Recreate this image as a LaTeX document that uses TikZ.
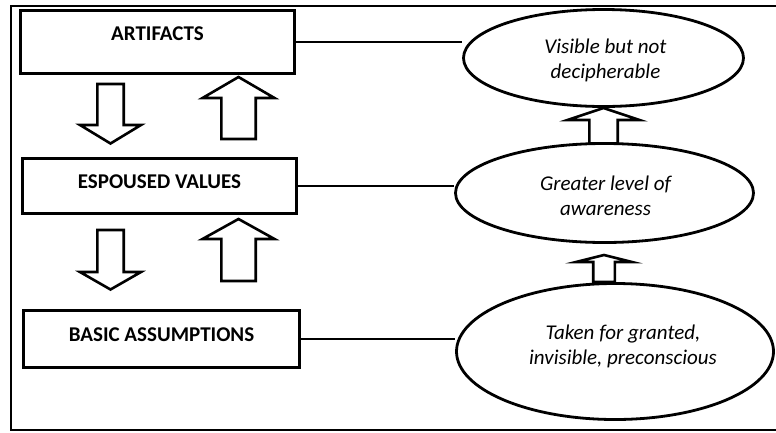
\documentclass[tikz,border=0pt]{standalone}
\usepackage{fontspec}
\setmainfont{Carlito}
\usetikzlibrary{shapes}

% hollow block arrow: x, tail y, tip y, shaft half width, head half width, head base y
\newcommand{\hollowarrow}[6]{%
\draw[blockarr] ({#1-#4},#2) -- ({#1-#4},#6) -- ({#1-#5},#6) -- (#1,#3) -- ({#1+#5},#6) -- ({#1+#4},#6) -- ({#1+#4},#2) -- cycle;}

\begin{document}
\begin{tikzpicture}[x=1pt,y=-1pt,
  box/.style={draw, line width=3, rectangle},
  bubble/.style={draw, line width=2.8, ellipse},
  btext/.style={font=\fontsize{21}{25}\selectfont\bfseries},
  etext/.style={font=\fontsize{21}{25}\selectfont\itshape, align=center},
  blockarr/.style={line width=2.6},
  link/.style={line width=1.3}]
\useasboundingbox (0,0) rectangle (776,432);

% cadre
\draw[line width=2.4] (776,6) -- (11,6) -- (11,430) -- (776,430);

% levels
\node[box, minimum width=274, minimum height=63, label={[btext,yshift=8]center:ARTIFACTS}] (l1) at (157.5,42) {};
\node[box, minimum width=274, minimum height=55, label={[btext,yshift=4]center:ESPOUSED VALUES}] (l2) at (159.5,186) {};
\node[box, minimum width=276, minimum height=57, label={[btext,yshift=4]center:BASIC ASSUMPTIONS}] (l3) at (161.5,339) {};

% arrows between levels
\hollowarrow{110.5}{84}{143.5}{13.2}{30.5}{125}
\hollowarrow{238.5}{139}{77}{17.2}{36}{98}
\hollowarrow{110.5}{230}{289.5}{13.2}{30.5}{272}
\hollowarrow{238.5}{281}{219}{17.2}{36}{239}

% arrows between bubbles
\hollowarrow{603.5}{143.5}{108}{14.2}{36}{120}
\hollowarrow{604}{282}{255}{10.8}{28}{262}

% bubbles
\node[bubble, minimum width=280, minimum height=97, label={[etext,xshift=2,yshift=-2.7]center:{Visible but not\\decipherable}}] (e1) at (603.5,58) {};
\node[bubble, minimum width=298, minimum height=99, label={[etext,xshift=1,yshift=-3.2]center:{Greater level of\\awareness}}] (e2) at (604.5,193) {};
\node[bubble, minimum width=317, minimum height=136, label={[etext,xshift=8,yshift=5.2]center:{Taken for granted,\\invisible, preconscious}}] (e3) at (615,351.5) {};

% links
\draw[link] (l1.east) -- (l1.east -| e1.west);
\draw[link] (l2.east) -- (l2.east -| e2.west);
\draw[link] (l3.east) -- (l3.east -| e3.west);

\end{tikzpicture}
\end{document}
